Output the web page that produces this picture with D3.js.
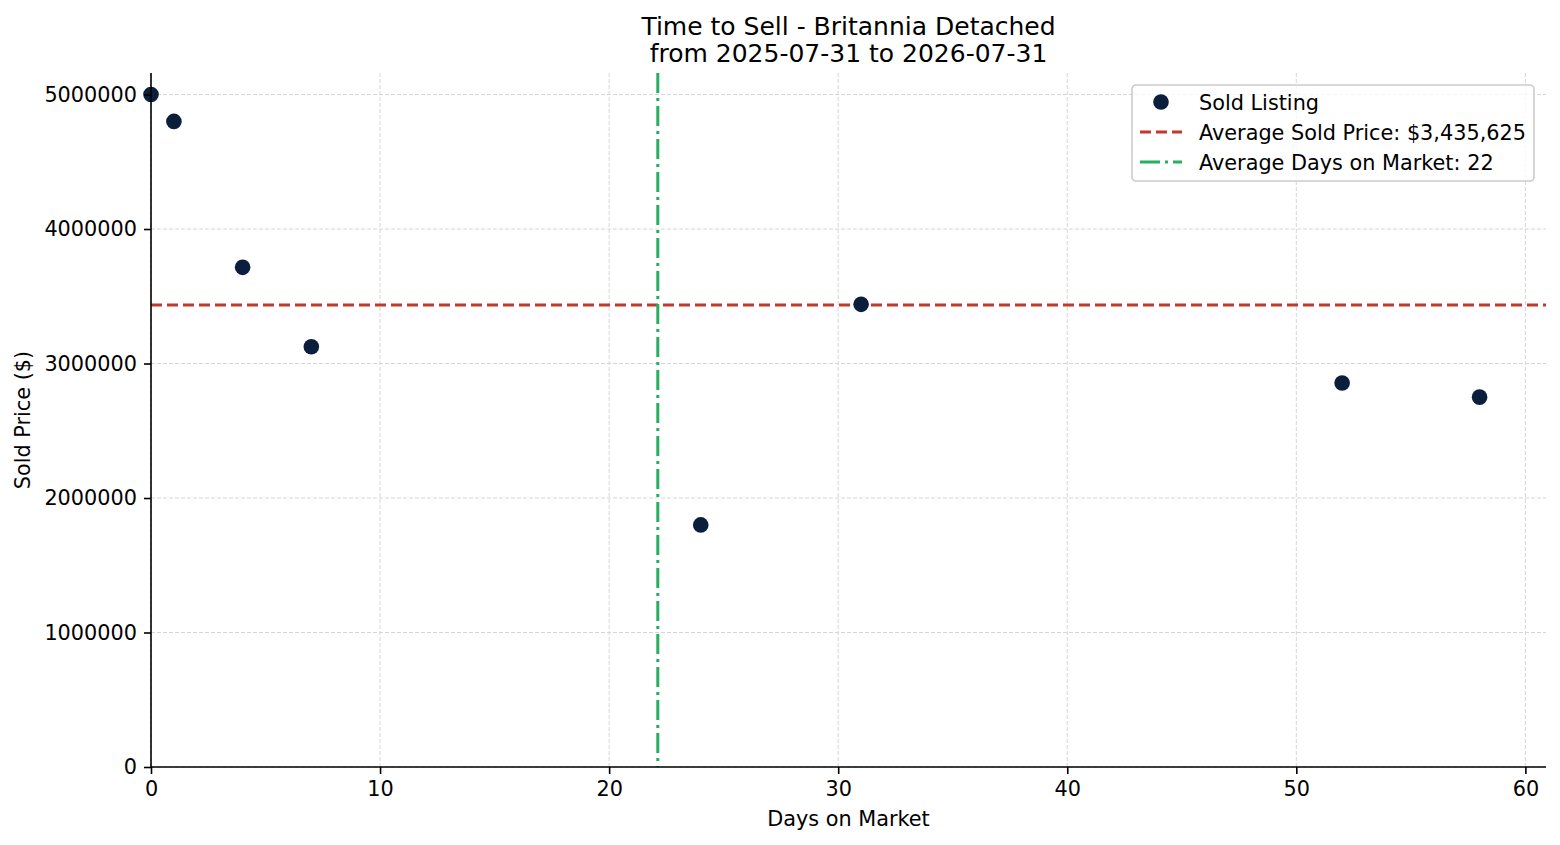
<!DOCTYPE html>
<html>
<head>
<meta charset="utf-8">
<script src="https://cdn.jsdelivr.net/npm/d3@7"></script>
<style>
  body { margin: 0; background: #fff; }
  text { font-family: "DejaVu Sans", sans-serif; fill: #000; }
</style>
</head>
<body>
<div id="chart"></div>
<script>
// DATA
const days   = [0, 1, 4, 7, 24, 31, 52, 58];
const prices = [5000000, 4800000, 3715000, 3125000, 1800000, 3440000, 2855000, 2750000];
const xTicks = [0, 10, 20, 30, 40, 50, 60];
const yTicks = [0, 1000000, 2000000, 3000000, 4000000, 5000000];
const titleLines = ["Time to Sell - Britannia Detached", "from 2025-07-31 to 2026-07-31"];

const points = days.map((d, i) => ({ days: d, price: prices[i] }));
const avgPrice = d3.mean(prices);
const avgDays = d3.mean(days);

// SETUP
const W = 1560, H = 845;
const margin = { top: 73, right: 14, bottom: 78, left: 151 },
      width = W - margin.left - margin.right,
      height = H - margin.top - margin.bottom;

const svg = d3.select("#chart").append("svg")
    .attr("width", W).attr("height", H);
const g = svg.append("g")
    .attr("transform", `translate(${margin.left},${margin.top})`);

// scales (matplotlib-like 5% margin on the upper side, lower fixed at 0)
const x = d3.scaleLinear().domain([0, 58 * 1.05]).range([0, width]);
const y = d3.scaleLinear().domain([0, 5000000 + 0.05 * 3200000]).range([height, 0]);

// grid
g.append("g").selectAll("line").data(xTicks).join("line")
    .attr("x1", d => x(d)).attr("x2", d => x(d))
    .attr("y1", 0).attr("y2", height)
    .attr("stroke", "#d6d6d6").attr("stroke-width", 1)
    .attr("stroke-dasharray", "4,2");
g.append("g").selectAll("line").data(yTicks).join("line")
    .attr("x1", 0).attr("x2", width)
    .attr("y1", d => y(d)).attr("y2", d => y(d))
    .attr("stroke", "#d6d6d6").attr("stroke-width", 1)
    .attr("stroke-dasharray", "4,2");

// average lines
g.append("line")
    .attr("x1", 0).attr("x2", width)
    .attr("y1", y(avgPrice)).attr("y2", y(avgPrice))
    .attr("stroke", "#c0392b").attr("stroke-width", 3)
    .attr("stroke-dasharray", "11,5");
g.append("line")
    .attr("x1", x(avgDays)).attr("x2", x(avgDays))
    .attr("y1", 0).attr("y2", height)
    .attr("stroke", "#27ae60").attr("stroke-width", 3)
    .attr("stroke-dasharray", "20,5,3,5");

// points
g.append("g").selectAll("circle").data(points).join("circle")
    .attr("cx", d => x(d.days))
    .attr("cy", d => y(d.price))
    .attr("r", 7.8)
    .attr("fill", "#0b1f3d");

// axes
const xAxis = g.append("g")
    .attr("transform", `translate(0,${height})`)
    .call(d3.axisBottom(x).tickValues(xTicks).tickSize(7).tickPadding(7).tickFormat(d3.format("d")));
const yAxis = g.append("g")
    .call(d3.axisLeft(y).tickValues(yTicks).tickSize(7).tickPadding(7).tickFormat(d3.format("d")));
[xAxis, yAxis].forEach(a => {
    a.select(".domain").attr("stroke", "#000").attr("stroke-width", 1.6);
    a.selectAll(".tick line").attr("stroke", "#000").attr("stroke-width", 1.6);
    a.selectAll(".tick text").attr("font-size", 20.8).attr("font-family", "DejaVu Sans").attr("fill", "#000");
});
xAxis.select(".domain").attr("d", `M0,0H${width}`);
yAxis.select(".domain").attr("d", `M0,${height}V0`);

// title
svg.append("text")
    .attr("x", margin.left + width / 2).attr("y", 35)
    .attr("text-anchor", "middle").attr("font-size", 25)
    .text(titleLines[0]);
svg.append("text")
    .attr("x", margin.left + width / 2).attr("y", 62)
    .attr("text-anchor", "middle").attr("font-size", 25)
    .text(titleLines[1]);

// axis labels
svg.append("text")
    .attr("x", margin.left + width / 2).attr("y", 826)
    .attr("text-anchor", "middle").attr("font-size", 20.8)
    .text("Days on Market");
svg.append("text")
    .attr("transform", `translate(30,${margin.top + height / 2}) rotate(-90)`)
    .attr("text-anchor", "middle").attr("font-size", 20.8)
    .text("Sold Price ($)");

// legend
const legend = svg.append("g").attr("transform", "translate(1132,85)");
legend.append("rect")
    .attr("width", 402).attr("height", 96).attr("rx", 4)
    .attr("fill", "#fff").attr("fill-opacity", 0.8)
    .attr("stroke", "#cccccc").attr("stroke-width", 1.6);
const items = [
    { type: "dot", label: "Sold Listing" },
    { type: "line", color: "#c0392b", dash: "11,5", label: `Average Sold Price: $${d3.format(",")(Math.round(avgPrice))}` },
    { type: "line", color: "#27ae60", dash: "20,5,3,5", label: `Average Days on Market: ${Math.round(avgDays)}` }
];
items.forEach((it, i) => {
    const row = legend.append("g").attr("transform", `translate(0,${17 + i * 30})`);
    if (it.type === "dot") {
        row.append("circle").attr("cx", 29).attr("cy", 0).attr("r", 7.8).attr("fill", "#0b1f3d");
    } else {
        row.append("line").attr("x1", 8).attr("x2", 50).attr("y1", 0).attr("y2", 0)
            .attr("stroke", it.color).attr("stroke-width", 3).attr("stroke-dasharray", it.dash);
    }
    row.append("text").attr("x", 67).attr("y", 7.5).attr("font-size", 20.8).text(it.label);
});
</script>
</body>
</html>
